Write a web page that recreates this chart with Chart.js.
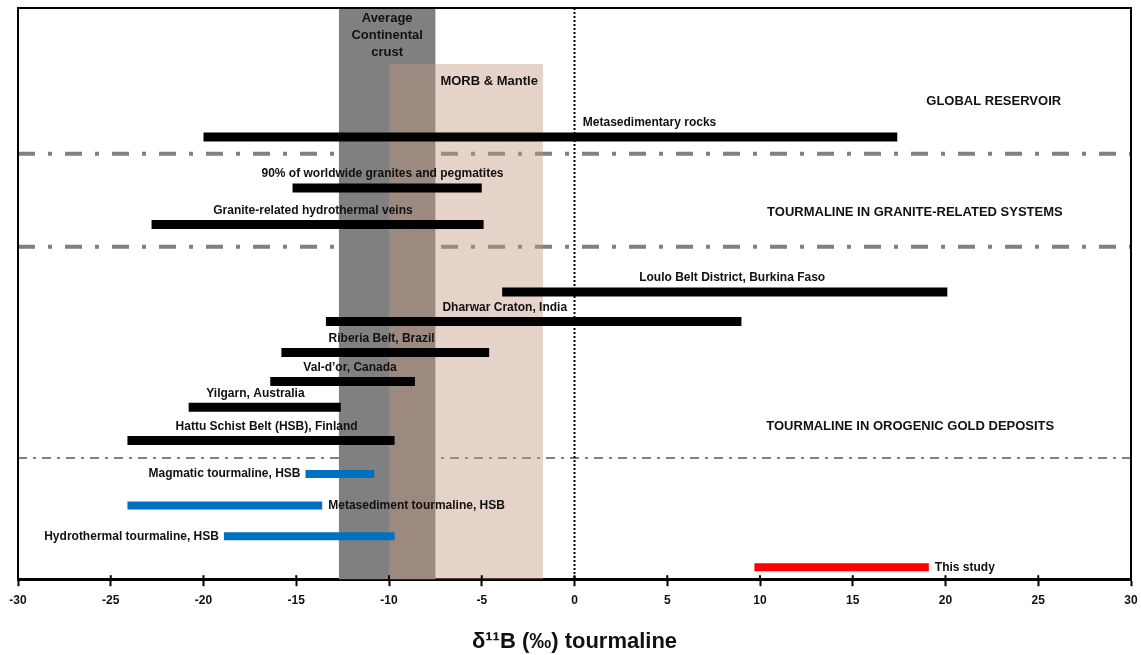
<!DOCTYPE html>
<html>
<head>
<meta charset="utf-8">
<script src="https://cdn.jsdelivr.net/npm/chart.js@4.4.0/dist/chart.umd.min.js"></script>
<style>
  html, body { margin: 0; padding: 0; background: #fff; }
  #wrap { width: 1141px; height: 655px; position: relative; }
</style>
</head>
<body>
<div id="wrap"><canvas id="boronChart"></canvas></div>
<script>
// ranges of d11B in tourmaline (permil), one bar per row
const categories = [
  'Metasedimentary rocks',
  '90% of worldwide granites and pegmatites',
  'Granite-related hydrothermal veins',
  'Loulo Belt District, Burkina Faso',
  'Dharwar Craton, India',
  'Riberia Belt, Brazil',
  'Val-d\u2019or, Canada',
  'Yilgarn, Australia',
  'Hattu Schist Belt (HSB), Finland',
  'Magmatic tourmaline, HSB',
  'Metasediment tourmaline, HSB',
  'Hydrothermal tourmaline, HSB',
  'This study'
];
const lowValues  = [-20.0, -15.2, -22.8, -3.9, -13.4, -15.8, -16.4, -20.8, -24.1, -14.5, -24.1, -18.9, 9.7];
const highValues = [17.4, -5.0, -4.9, 20.1, 9.0, -4.6, -8.6, -12.6, -9.7, -10.8, -13.6, -9.7, 19.1];
// vertical row level of each bar (0 = top of frame, 100 = axis)
const rowLevels = [22.6, 31.5, 37.9, 49.7, 54.9, 60.3, 65.4, 69.9, 75.7, 81.6, 87.1, 92.5, 97.9];
const groups = ['ref', 'ref', 'ref', 'ref', 'ref', 'ref', 'ref', 'ref', 'ref', 'hsb', 'hsb', 'hsb', 'study'];

const xTicks = [-30, -25, -20, -15, -10, -5, 0, 5, 10, 15, 20, 25, 30];

const crustRange = [-12.7, -7.5];
const morbRange = [-10.0, -1.7];
const morbTop = 9.8;

const sectionNames = ['GLOBAL RESERVOIR', 'TOURMALINE IN GRANITE-RELATED SYSTEMS', 'TOURMALINE IN OROGENIC GOLD DEPOSITS'];
const sectionX = [22.6, 18.35, 18.1];
const sectionLevel = [16.3, 35.8, 73.3];
const separatorLevels = [25.5, 41.8, 78.8];

// where each bar label sits
const labelPlace = [
  { at: 'above', align: 'left', x: 0.45 },
  { at: 'above', align: 'center', x: -10.35 },
  { at: 'above', align: 'center', x: -14.1 },
  { at: 'above', align: 'center', x: 8.5 },
  { at: 'above', align: 'right', x: -0.4 },
  { at: 'above', align: 'center', x: -10.4 },
  { at: 'above', align: 'center', x: -12.1 },
  { at: 'above', align: 'center', x: -17.2 },
  { at: 'above', align: 'center', x: -16.6 },
  { at: 'left' },
  { at: 'right' },
  { at: 'left' },
  { at: 'right' }
];

const colours = { ref: '#000000', hsb: '#0070c0', study: '#ff0000' };
const widths = { ref: 9, hsb: 8, study: 8 };
const FONT = '"Liberation Sans", Arial, sans-serif';

const datasets = categories.map((name, i) => ({
  label: name,
  data: [{ x: lowValues[i], y: rowLevels[i] }, { x: highValues[i], y: rowLevels[i] }],
  showLine: true,
  borderColor: colours[groups[i]],
  borderWidth: widths[groups[i]],
  borderCapStyle: 'butt',
  pointRadius: 0,
  pointHoverRadius: 0
}));

const backdrop = {
  id: 'backdrop',
  beforeDatasetsDraw(chart) {
    const { ctx, chartArea: a, scales: { x, y } } = chart;
    ctx.save();
    // section separators
    separatorLevels.forEach((lv, i) => {
      const py = y.getPixelForValue(lv);
      const thin = i === 2;
      ctx.strokeStyle = '#808080';
      ctx.lineWidth = thin ? 2 : 4;
      ctx.setLineDash(thin ? [9, 6, 3, 6] : [17, 13, 4, 13]);
      ctx.beginPath();
      ctx.moveTo(a.left, py);
      ctx.lineTo(a.right, py);
      ctx.stroke();
    });
    ctx.setLineDash([]);
    // average continental crust
    const c0 = x.getPixelForValue(crustRange[0]), c1 = x.getPixelForValue(crustRange[1]);
    ctx.fillStyle = '#808080';
    ctx.fillRect(c0, a.top, c1 - c0, a.bottom - a.top);
    // MORB & mantle
    const m0 = x.getPixelForValue(morbRange[0]), m1 = x.getPixelForValue(morbRange[1]);
    const mt = y.getPixelForValue(morbTop);
    ctx.fillStyle = 'rgba(194,149,128,0.425)';
    ctx.fillRect(m0, mt, m1 - m0, a.bottom - mt);
    // zero line
    const z = x.getPixelForValue(0);
    ctx.strokeStyle = '#000';
    ctx.lineWidth = 2;
    ctx.setLineDash([2, 2]);
    ctx.beginPath();
    ctx.moveTo(z, a.top);
    ctx.lineTo(z, a.bottom);
    ctx.stroke();
    ctx.restore();
  },
  afterDatasetsDraw(chart) {
    const { ctx, chartArea: a, scales: { x, y } } = chart;
    ctx.save();
    ctx.fillStyle = '#111';
    ctx.textBaseline = 'middle';

    // band names
    ctx.font = 'bold 13px ' + FONT;
    ctx.textAlign = 'center';
    const cx = x.getPixelForValue((crustRange[0] + crustRange[1]) / 2);
    ['Average', 'Continental', 'crust'].forEach((t, i) => {
      ctx.fillText(t, cx, a.top + 10 + i * 17);
    });
    ctx.fillText('MORB & Mantle', x.getPixelForValue(-4.6), y.getPixelForValue(12.8));

    // section names
    sectionNames.forEach((t, i) => {
      ctx.fillText(t, x.getPixelForValue(sectionX[i]), y.getPixelForValue(sectionLevel[i]));
    });

    // bar labels
    ctx.font = 'bold 12px ' + FONT;
    categories.forEach((t, i) => {
      const p = labelPlace[i];
      const py = y.getPixelForValue(rowLevels[i]);
      if (p.at === 'above') {
        ctx.textAlign = p.align;
        ctx.fillText(t, x.getPixelForValue(p.x), py - 14);
      } else if (p.at === 'left') {
        ctx.textAlign = 'right';
        ctx.fillText(t, x.getPixelForValue(lowValues[i]) - 5, py);
      } else {
        ctx.textAlign = 'left';
        ctx.fillText(t, x.getPixelForValue(highValues[i]) + 6, py);
      }
    });

    // frame (left, top, right)
    ctx.strokeStyle = '#000';
    ctx.lineWidth = 2;
    ctx.beginPath();
    ctx.moveTo(a.left, a.bottom);
    ctx.lineTo(a.left, a.top);
    ctx.lineTo(a.right, a.top);
    ctx.lineTo(a.right, a.bottom);
    ctx.stroke();
    // small tick marks above axis
    xTicks.forEach(v => {
      const px = x.getPixelForValue(v);
      ctx.beginPath();
      ctx.moveTo(px, a.bottom - 4);
      ctx.lineTo(px, a.bottom);
      ctx.stroke();
    });
    ctx.restore();
  }
};

new Chart(document.getElementById('boronChart'), {
  type: 'scatter',
  data: { datasets },
  options: {
    responsive: true,
    maintainAspectRatio: false,
    animation: false,
    layout: { padding: { left: 18, right: 10, top: 8, bottom: 0 } },
    plugins: { legend: { display: false }, tooltip: { enabled: false } },
    scales: {
      x: {
        type: 'linear',
        min: -30,
        max: 30,
        afterBuildTicks: s => { s.ticks = xTicks.map(v => ({ value: v })); },
        afterFit: s => { s.paddingLeft = 0; s.paddingRight = 0; },
        border: { display: true, color: '#000', width: 3 },
        grid: { drawOnChartArea: false, drawTicks: true, tickLength: 7, tickColor: '#000', tickWidth: 2 },
        ticks: { color: '#111', padding: 7, font: { family: FONT, size: 12, weight: 'bold' } },
        title: {
          display: true,
          text: '\u03b4\u00b9\u00b9B (\u2030) tourmaline',
          color: '#111',
          padding: { top: 14, bottom: 0 },
          font: { family: FONT, size: 22, weight: 'bold' }
        }
      },
      y: {
        type: 'linear',
        min: 0,
        max: 100,
        reverse: true,
        display: false
      }
    }
  },
  plugins: [backdrop]
});
</script>
</body>
</html>
